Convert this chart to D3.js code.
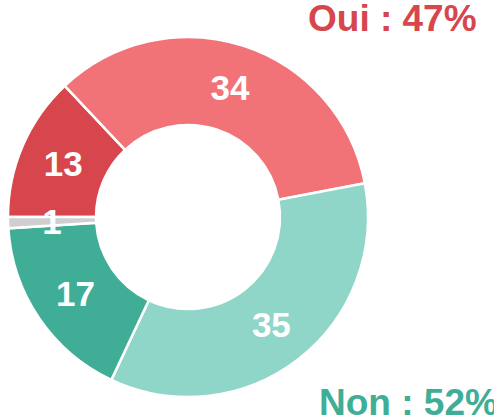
<!DOCTYPE html>
<html>
<head>
<meta charset="utf-8">
<script src="https://cdn.jsdelivr.net/npm/d3@7"></script>
<style>
  body { margin: 0; background: #fff; }
  text { font-family: "Liberation Sans", Arial, sans-serif; font-weight: bold; }
</style>
</head>
<body>
<script>
// segments clockwise, starting at 9 o'clock
let labels = ['Oui B', 'Oui A', 'Non A', 'Non B', 'NSP']
let values = [13, 34, 35, 17, 1]
let colors = ['#d8464d', '#f27377', '#90d6c8', '#40ae96', '#cfcfcf']

let groups = ['Oui : 47%', 'Non : 52%']
let groupColors = ['#d8464d', '#40ae96']

let
  width = 494,
  height = 419

let cx = 188,
  cy = 217,
  outerR = 180,
  innerR = 92

let svg = d3.select('body')
  .append('svg')
  .attr('width', width)
  .attr('height', height)

let pie = d3.pie()
  .sort(null)
  .startAngle(-Math.PI / 2)
  .endAngle(Math.PI * 1.5)

let arc = d3.arc()
  .innerRadius(innerR)
  .outerRadius(outerR)

let arcs = pie(values)

let chart = svg.append('g')
  .attr('transform', `translate(${cx}, ${cy})`)

chart.selectAll('path')
  .data(arcs)
  .enter()
  .append('path')
  .attr('d', arc)
  .attr('fill', (d, i) => colors[i])
  .attr('stroke', '#fff')
  .attr('stroke-width', 2.5)

chart.selectAll('text.val')
  .data(arcs)
  .enter()
  .append('text')
  .attr('class', 'val')
  .attr('x', d => arc.centroid(d)[0])
  .attr('y', d => arc.centroid(d)[1])
  .attr('dy', '0.36em')
  .attr('text-anchor', 'middle')
  .attr('font-size', '35px')
  .attr('fill', '#fff')
  .text(d => d.data)

svg.append('text')
  .attr('x', 308)
  .attr('y', 31)
  .attr('font-size', '37px')
  .attr('fill', groupColors[0])
  .text(groups[0])

svg.append('text')
  .attr('x', 319)
  .attr('y', 415)
  .attr('font-size', '37px')
  .attr('fill', groupColors[1])
  .text(groups[1])
</script>
</body>
</html>
